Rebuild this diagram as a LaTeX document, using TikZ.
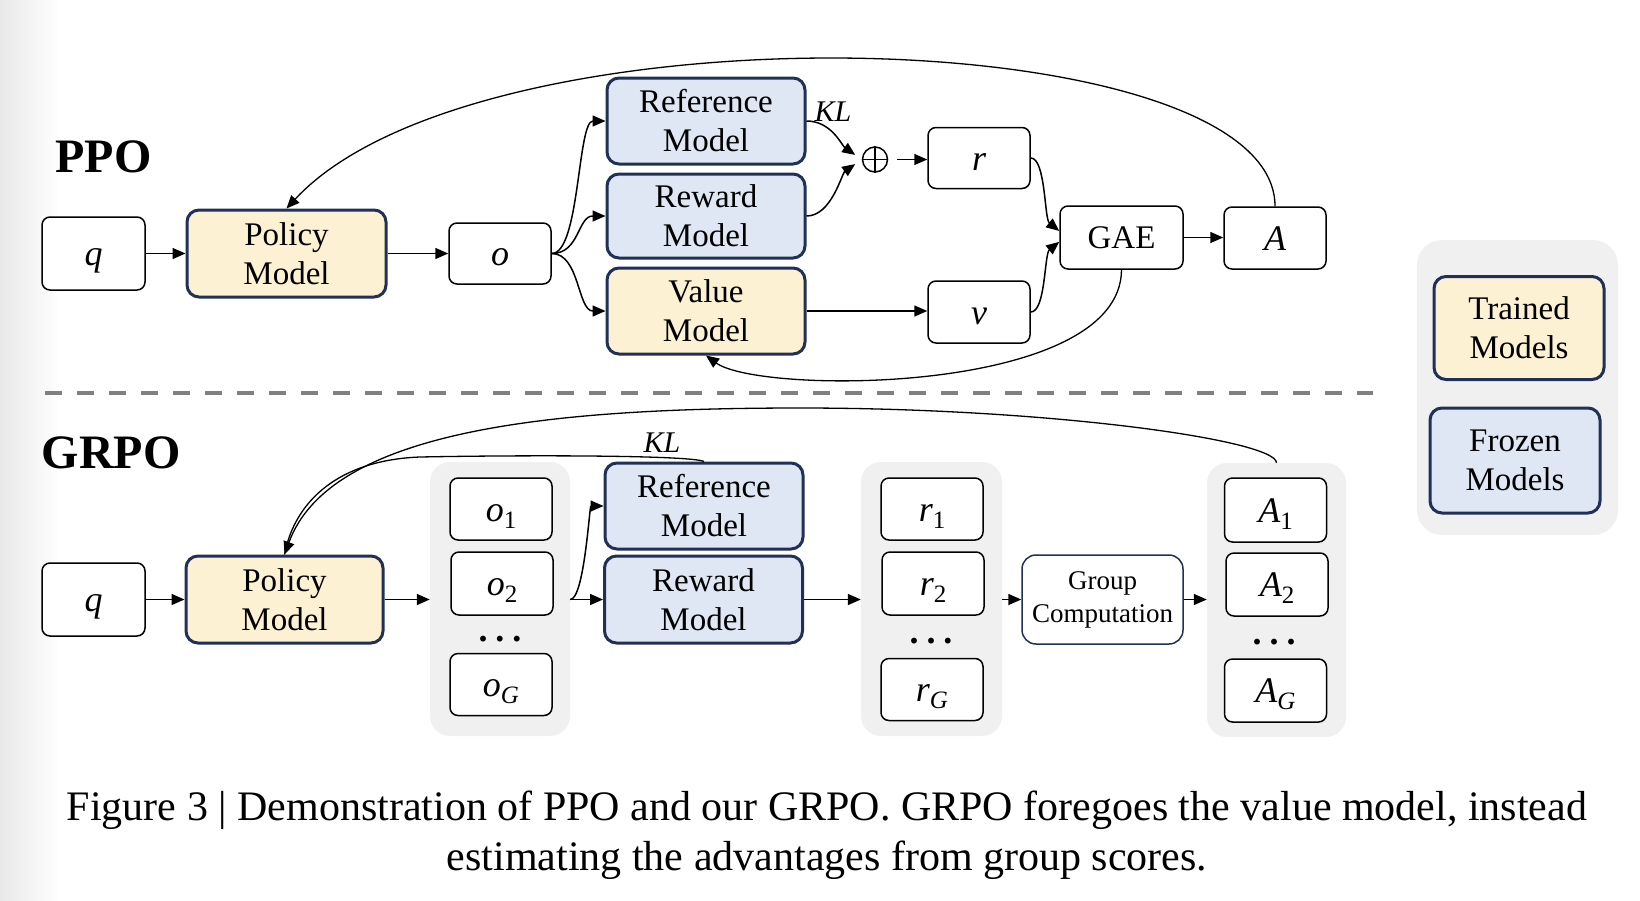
\documentclass[tikz,border=0pt]{standalone}
\usepackage{fontspec}
\setmainfont{Liberation Serif}
\usepackage{graphicx}
\usetikzlibrary{arrows.meta,calc}
\definecolor{navy}{HTML}{203056}
\definecolor{trainedfill}{HTML}{FCF1D3}
\definecolor{frozenfill}{HTML}{DEE7F3}
\definecolor{grpgray}{HTML}{F0F0F0}
\definecolor{dashgray}{HTML}{808080}
\newcommand\sbs[1]{\raisebox{-7pt}{\fontsize{25}{25}\selectfont\upshape #1}}
\newcommand\mydots{.\kern8pt.\kern8pt.}
\begin{document}
\begin{tikzpicture}[x=1pt,y=-1pt,
 box/.style={rounded corners=8pt, draw=black, line width=1.5pt, fill=white, inner sep=0pt,
   minimum width=102pt, minimum height=62pt, font=\fontsize{36}{36}\selectfont\itshape,
   text height=30pt, text depth=6pt},
 model/.style={rounded corners=12pt, draw=navy, line width=3pt, inner sep=0pt,
   minimum width=198pt, minimum height=85pt, align=center, font=\fontsize{33}{39}\selectfont},
 trained/.style={model, fill=trainedfill},
 frozen/.style={model, fill=frozenfill},
 grp/.style={fill=grpgray, rounded corners=20pt, inner sep=0pt, minimum width=140pt, minimum height=274pt},
 gcbox/.style={rounded corners=14pt, draw=navy, line width=1.5pt, fill=white, inner sep=0pt,
   minimum width=161pt, minimum height=89pt, align=center, font=\fontsize{27}{33}\selectfont},
 arr/.style={-{Triangle[length=13pt,width=11pt]}, line width=1.5pt},
 thinline/.style={line width=1.3pt},
 ttl/.style={font=\fontsize{48}{48}\selectfont\bfseries, inner sep=0pt},
 dotrow/.style={font=\fontsize{36}{36}\selectfont\bfseries, anchor=base, inner sep=0pt,
   text height=5pt, text depth=0pt},
 kl/.style={font=\fontsize{30}{30}\selectfont\itshape, inner sep=0pt},
]
\useasboundingbox (0,0) rectangle (1640,900);
\shade[left color=black!9, right color=white] (0,0) rectangle (60,900);

% ---------- backgrounds ----------
\node[grp] (ogrp) at (500,599) {};
\node[grp, minimum width=141pt] (rgrp) at (931.5,599) {};
\node[grp, minimum width=139pt] (agrp) at (1276.5,600) {};
\node[grp, minimum width=201pt, minimum height=295pt, rounded corners=25pt] (legend) at (1517.5,387.5) {};

\draw[dashgray, line width=4pt, dash pattern=on 17pt off 15pt] (45,393) -- (1373,393);

% ---------- PPO ----------
\node[ttl] (ppoT) at (103.5,157) {PPO};
\node[box, minimum width=103pt, minimum height=73pt] (qP) at (93.5,253.5) {q};
\node[trained, minimum width=199pt, minimum height=87pt] (polP) at (286.5,253.5) {Policy\\Model};
\node[box, minimum height=61pt] (oP) at (500,253.5) {o};
\node[frozen, minimum height=86pt] (refP) at (706,121) {Reference\\Model};
\node[frozen, minimum height=84pt] (rewP) at (706,216) {Reward\\Model};
\node[trained, minimum height=86pt] (valP) at (706,311) {Value\\Model};
\node[circle, draw, line width=1.5pt, minimum size=25pt, inner sep=0pt] (plusP) at (875,159.5) {};
\draw[line width=1.5pt] (plusP.north) -- (plusP.south) (plusP.west) -- (plusP.east);
\node[kl] (klP) at (833,112) {KL};
\node[box, minimum height=61pt] (rP) at (979,158) {r};
\node[box] (vP) at (979,312) {v};
\node[box, font=\fontsize{33}{33}\selectfont\upshape, text height=22pt, text depth=0pt,
      minimum width=123pt, minimum height=63pt] (gae) at (1121.5,237.5) {GAE};
\node[box] (aP) at (1275,238) {A};

\draw[arr] (qP.east) -- (polP.west);
\draw[arr] (polP.east) -- (oP.west);
\draw[arr] (oP.east) .. controls +(28,0) and +(-28,0) .. (refP.west);
\draw[arr] (oP.east) .. controls +(28,0) and +(-28,0) .. (rewP.west);
\draw[arr] (oP.east) .. controls +(28,0) and +(-28,0) .. (valP.west);
\draw[arr, shorten >=8pt] (refP.east) .. controls +(25,0) and +(-20,-14) .. (plusP.west);
\draw[arr, shorten >=8pt] (rewP.east) .. controls +(25,0) and +(-20,14) .. (plusP.west);
\draw[arr, shorten <=9pt] (plusP.east) -- (plusP.east -| rP.west);
\draw[arr] (rP.east) .. controls +(15,0) and +(-15,-12) .. (gae.174);
\draw[arr] (vP.east) .. controls +(15,0) and +(-15,12) .. (gae.184);
\draw[arr] (valP.east) -- (valP.east -| vP.west);
\draw[arr] (gae.east) -- (gae.east -| aP.west);
\draw[arr, thinline] (aP.north) .. controls (1275,20) and (480,0) .. (polP.north);
\draw[arr, thinline] (gae.south) .. controls (1121,395) and (760,395) .. (valP.south);

% ---------- GRPO ----------
\node[ttl] (grpoT) at (111,453) {GRPO};
\node[box, minimum width=103pt, minimum height=73pt] (qG) at (93.5,599.5) {q};
\node[trained, minimum width=197pt, minimum height=87pt] (polG) at (284.5,599.5) {Policy\\Model};
\node[box] (o1) at (501,509) {o\sbs{1}};
\node[box, minimum height=63pt] (o2) at (502,583.5) {o\sbs{2}};
\node[dotrow] (odots) at (500,641) {\mydots};
\node[box] (oG) at (501,684.5) {o\sbs{\itshape G}};
\node[frozen, minimum height=86pt] (refG) at (704,506) {Reference\\Model};
\node[frozen, minimum height=87pt] (rewG) at (703.5,599.5) {Reward\\Model};
\node[kl] (klG) at (662,443) {KL};
\node[box] (r1) at (932,509) {r\sbs{1}};
\node[box, minimum height=63pt] (r2) at (933,583.5) {r\sbs{2}};
\node[dotrow] (rdots) at (931,643) {\mydots};
\node[box] (rG) at (932,689.5) {r\sbs{\itshape G}};
\node[gcbox] (gc) at (1102.5,599.5) {Group\\Computation};
\node[box, minimum height=64pt] (a1) at (1275.5,510) {A\sbs{1}};
\node[box, minimum height=63pt] (a2) at (1277,584.5) {A\sbs{2}};
\node[dotrow] (adots) at (1274,644) {\mydots};
\node[box, minimum height=63pt] (aG) at (1275.5,690.5) {A\sbs{\itshape G}};

\draw[arr] (qG.east) -- (polG.west);
\draw[arr] (polG.east) -- (ogrp.west |- polG.east);
\draw[arr] (ogrp.east |- rewG.west) -- (rewG.west);
\draw[arr] (ogrp.east |- rewG.west) .. controls +(14,0) and +(-14,0) .. (refG.west);
\draw[arr] (rewG.east) -- (rgrp.west |- rewG.east);
\draw[arr] (rgrp.east |- gc.west) -- (gc.west);
\draw[arr] (gc.east) -- (agrp.west |- gc.east);
\draw[thinline] (refG.north) .. controls (690,455) and (520,455) .. (420,457) .. controls (340,460) and (295,500) .. (polG.north);
\draw[arr, thinline] (agrp.north) .. controls (1276,440) and (1050,408) .. (800,408) .. controls (550,408) and (330,430) .. (polG.north);

% ---------- legend ----------
\node[trained, minimum width=170pt, minimum height=103pt] (ltr) at (1519,328) {Trained\\Models};
\node[frozen, minimum width=170pt, minimum height=105pt] (lfr) at (1515,460.5) {Frozen\\Models};

% ---------- caption ----------
\node[font=\fontsize{42}{50}\selectfont, align=center, inner sep=0pt] (cap) at (827,835)
  {Figure 3 | Demonstration of PPO and our GRPO. GRPO foregoes the value model, instead\\estimating the advantages from group scores.};
\end{tikzpicture}
\end{document}
